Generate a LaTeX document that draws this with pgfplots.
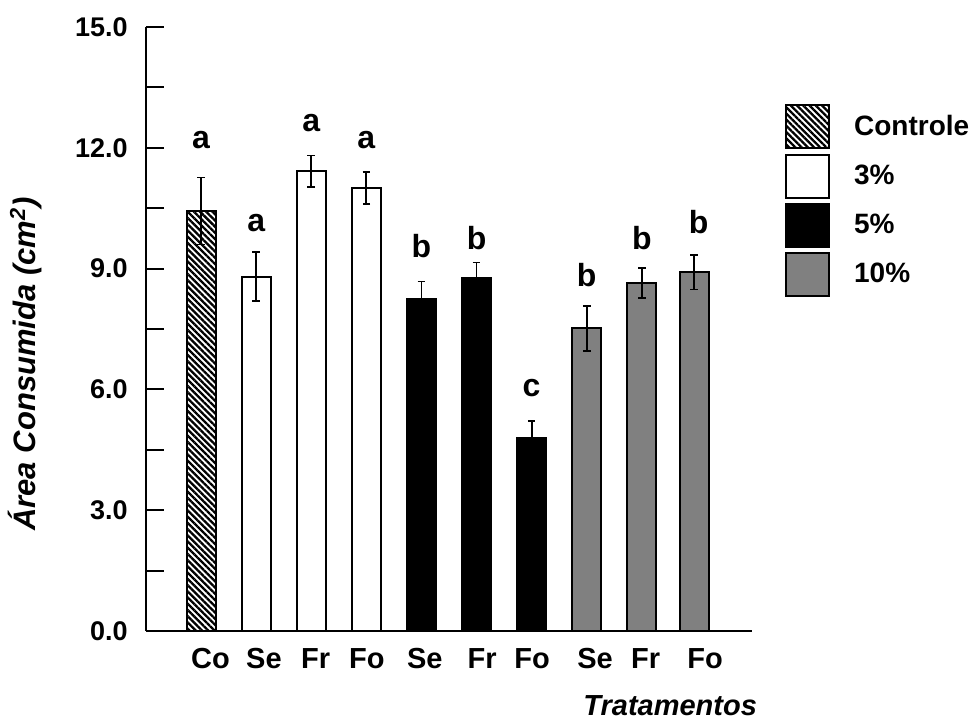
\documentclass[border=0pt]{standalone}
\usepackage{pgfplots}
\pgfplotsset{compat=1.18}
\usepackage{fontspec}
\setmainfont{Liberation Sans}
\usetikzlibrary{patterns.meta}
\definecolor{grayfill}{RGB}{128,128,128}

\pgfplotstableread{
x y e
0 10.43 0.83
}\controle
\pgfplotstableread{
x y e
1 8.80 0.61
2 11.42 0.39
3 11.00 0.40
}\tres
\pgfplotstableread{
x y e
4 8.24 0.44
5 8.77 0.38
6 4.80 0.41
}\cinco
\pgfplotstableread{
x y e
7 7.52 0.56
8 8.64 0.38
8.95 8.91 0.43
}\dez
\pgfplotstableread{
x y l
0 12.19 a
1 10.13 a
2 12.61 a
3 12.19 a
4 9.55 b
5 9.76 b
6 6.03 c
7 8.85 b
8 9.76 b
9.03 10.16 b
}\letras

\begin{document}
\begin{tikzpicture}
\useasboundingbox (-73pt,-45pt) rectangle (416.5pt,315.5pt);
\begin{axis}[
  at={(0pt,0pt)}, anchor=south west,
  scale only axis, width=303pt, height=302pt,
  xmin=-1, xmax=10, ymin=0, ymax=15,
  axis x line*=bottom, axis y line*=left,
  axis line style={line width=1pt, black},
  ytick={0,3,...,15}, minor ytick={1.5,4.5,...,13.5},
  tick align=inside, major tick length=9pt, minor tick length=9pt,
  every tick/.style={black, line width=1pt},
  xtick={0.17,1.14,2.08,3.01,4.06,5.10,6.01,7.15,8.07,9.15},
  xticklabels={Co,Se,Fr,Fo,Se,Fr,Fo,Se,Fr,Fo},
  xtick style={draw=none},
  xticklabel style={font=\bfseries\fontsize{14.5}{17}\selectfont, anchor=north, inner sep=0pt, yshift=-8.5pt},
  yticklabel style={font=\bfseries\fontsize{13.5}{16}\selectfont, anchor=east, inner sep=0pt, xshift=-9pt,
    /pgf/number format/.cd, fixed, fixed zerofill, precision=1, assume math mode=true},
  ylabel={Área Consumida (cm\textsuperscript{2})},
  xlabel={Tratamentos},
  every axis y label/.style={at={(axis description cs:0,0.442)}, xshift=-60.5pt, rotate=90, anchor=center,
    font=\bfseries\itshape\fontsize{15.5}{18}\selectfont},
  every axis x label/.style={at={(axis description cs:0.865,0)}, yshift=-37.5pt, anchor=center,
    font=\bfseries\itshape\fontsize{14.5}{17}\selectfont},
  legend style={at={(rel axis cs:1.054,0.8725)}, anchor=north west, draw=none, fill=none,
    inner xsep=0pt, inner ysep=0pt, row sep=2.1pt,
    font=\bfseries\fontsize{14}{16}\selectfont,
    /tikz/every odd column/.append style={column sep=10pt}},
  legend cell align=left,
  legend image code/.code={\draw[#1, line width=1pt] (0pt,-10.75pt) rectangle (21.5pt,10.75pt);},
  error bars/error bar style={line width=0.9pt, black},
  error bars/error mark options={rotate=90, mark size=1.9pt, line width=0.9pt, black},
]
\addplot[ybar, bar shift=0pt, bar width=14.5pt, draw=black, line width=1pt,
  pattern={Lines[angle=-45,distance=2.2pt,line width=1.15pt]},
  error bars/.cd, y dir=both, y explicit]
  table[x=x, y=y, y error=e] {\controle};
\addlegendentry{Controle}
\addplot[ybar, bar shift=0pt, bar width=14.5pt, draw=black, fill=white, line width=1pt,
  error bars/.cd, y dir=both, y explicit]
  table[x=x, y=y, y error=e] {\tres};
\addlegendentry{3\%}
\addplot[ybar, bar shift=0pt, bar width=14.5pt, draw=black, fill=black, line width=1pt,
  error bars/.cd, y dir=both, y explicit]
  table[x=x, y=y, y error=e] {\cinco};
\addlegendentry{5\%}
\addplot[ybar, bar shift=0pt, bar width=14.5pt, draw=black, fill=grayfill, line width=1pt,
  error bars/.cd, y dir=both, y explicit]
  table[x=x, y=y, y error=e] {\dez};
\addlegendentry{10\%}
\addplot[forget plot, only marks, mark=none, nodes near coords, point meta=explicit symbolic,
  every node near coord/.append style={anchor=center, inner sep=0pt, font=\bfseries\fontsize{16}{18}\selectfont}]
  table[x=x, y=y, meta=l] {\letras};
\end{axis}
\end{tikzpicture}
\end{document}
